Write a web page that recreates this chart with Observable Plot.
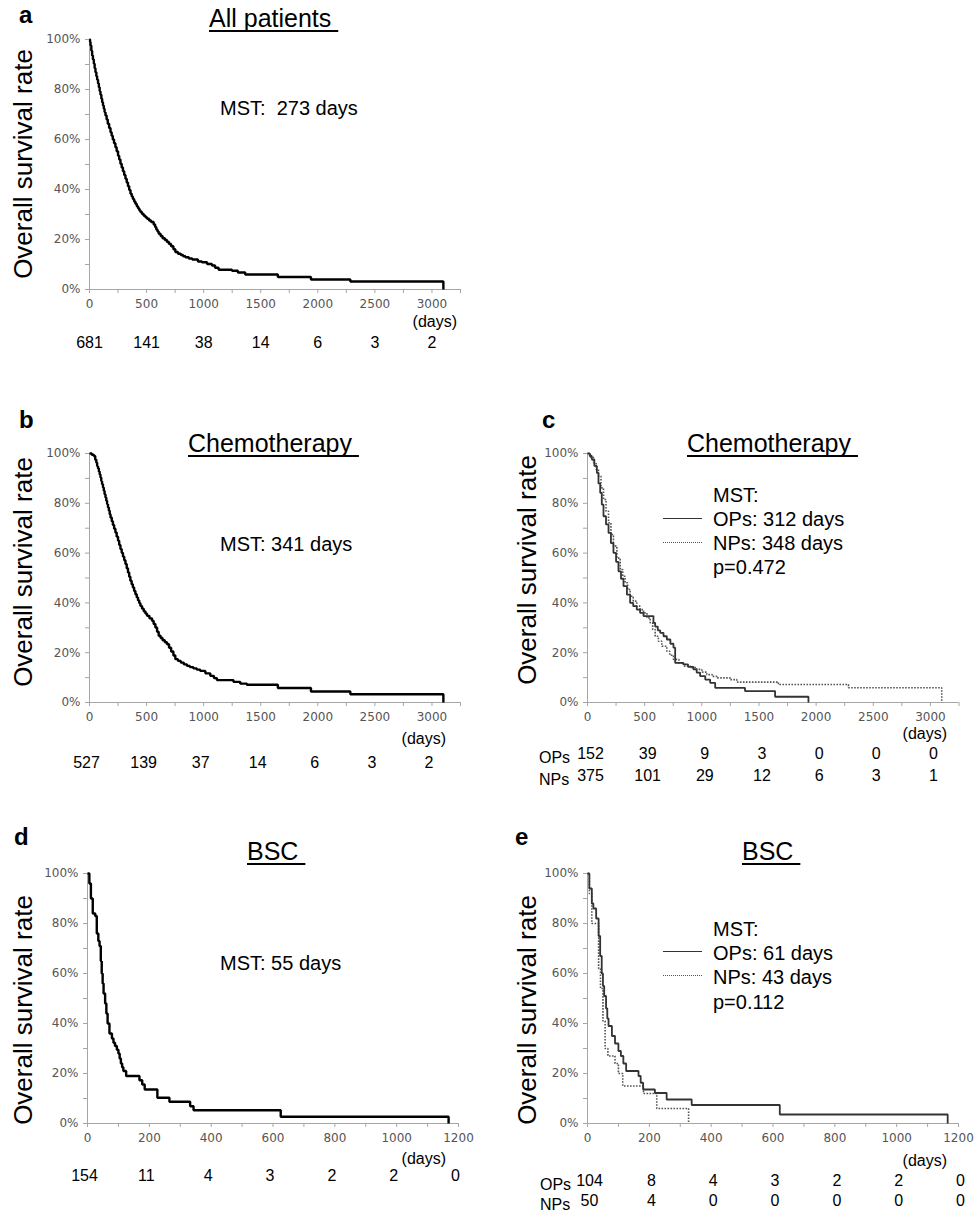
<!DOCTYPE html>
<html>
<head>
<meta charset="utf-8">
<script src="https://cdn.jsdelivr.net/npm/d3@7"></script>
<script src="https://cdn.jsdelivr.net/npm/@observablehq/plot@0.6"></script>
<style>
  html, body { margin: 0; padding: 0; background: #fff; }
  #fig { position: relative; width: 978px; height: 1215px; background: #fff; overflow: hidden; }
  .pl { position: absolute; }
  .t { position: absolute; white-space: pre; font-family: "Liberation Sans", Arial, sans-serif; color: #000; }
  .leg { position: absolute; width: 39px; height: 0; }
</style>
</head>
<body>
<div id="fig"></div>
<script>
// ---------------- data ----------------
// Kaplan-Meier steps: [day, survival %]
const allPatients = [[0,100],[5,99],[9,97.6],[16,95.5],[23,93.6],[30,92],[38,90.3],[45,88.5],[52,86.9],[60,85.3],[67,83.9],[75,82.4],[82,80.9],[89,79.4],[96,77.9],[104,76.3],[111,74.9],[118,73.6],[125,72.3],[132,71],[140,69.6],[150,68],[160,66.3],[172,64.6],[184,62.9],[194,61.5],[204,60],[215,58.5],[227,56.9],[238,55.3],[250,53.5],[260,52],[271,50.3],[282,48.8],[293,47.3],[304,45.8],[315,44.3],[326,42.8],[337,41.3],[348,39.8],[359,38.3],[370,37.2],[380,36.2],[391,35.2],[402,34.3],[414,33.3],[425,32.5],[436,31.7],[446,31],[460,30.2],[475,29.5],[490,28.9],[504,28.3],[522,27.6],[540,27],[562,26],[575,25],[585,24],[596,23.2],[606,22.3],[623,21.4],[640,20.5],[660,19.8],[679,19],[697,18.2],[715,17.3],[735,16.1],[752,15],[775,14.3],[800,13.8],[820,13.3],[840,12.9],[870,12.4],[900,12],[950,11.2],[985,10.9],[1030,10.2],[1073,9.6],[1100,8.7],[1131,7.9],[1248,7.5],[1300,6.8],[1364,6.0],[1650,5.0],[1940,4.0],[2285,3.2],[3100,0]];

const chemoAll = [[0,100],[20,99.5],[38,99],[50,97.5],[60,96.3],[67,95],[75,94],[82,92.8],[89,91.6],[96,90.4],[103,89],[110,87.7],[118,86.3],[125,85],[132,83.6],[140,82.3],[147,81],[154,79.7],[162,78.3],[170,77],[177,75.6],[184,74.3],[195,72.8],[205,71.3],[216,69.8],[227,68.3],[238,66.6],[250,65],[260,63.3],[271,61.6],[282,60.1],[293,58.6],[304,57.1],[315,55.6],[326,53.9],[337,52.2],[348,50.5],[358,48.9],[369,47.5],[380,46.2],[391,44.8],[402,43.5],[414,42.2],[425,41],[436,39.9],[446,38.8],[460,37.7],[475,36.6],[490,35.7],[504,34.8],[525,33.8],[548,32.8],[562,31.5],[577,30.1],[592,28.4],[606,26.8],[623,25.9],[640,25],[660,24.2],[679,23.4],[697,22],[715,20.5],[735,18.9],[752,17.4],[775,16.7],[800,16],[827,15.3],[854,14.7],[880,14.2],[910,13.7],[940,13.2],[970,12.7],[1015,11.7],[1058,10.7],[1090,9.8],[1116,9.0],[1261,8.3],[1320,7.6],[1378,7.1],[1650,5.8],[1940,4.4],[2285,3.3],[3100,0]];

const chemoOPs = [[0,100],[20,99],[38,97.6],[60,95],[82,92.2],[96,88],[111,84.2],[125,79.5],[140,74.8],[162,71.5],[184,68.1],[205,64],[227,60.1],[250,56.5],[271,52.7],[293,49.7],[315,46.7],[345,43.3],[373,40],[400,38.7],[431,37.3],[460,36],[490,34.7],[577,32],[592,30.5],[615,29],[636,28],[665,26.6],[694,25.3],[725,23.6],[752,22],[767,15.9],[840,15.3],[880,14.3],[927,13.3],[955,12],[985,10.6],[1030,9.2],[1073,7.9],[1117,5.9],[1378,4.6],[1641,2.3],[1933,0]];

const chemoNPs = [[0,100],[25,98.5],[52,96.3],[75,93.6],[96,90.9],[118,86.2],[140,81.5],[162,76.8],[184,72.2],[205,67.5],[227,62.8],[257,58],[286,53.4],[308,50.7],[329,48.1],[351,45.4],[373,42.7],[400,40.7],[431,38.7],[460,37.3],[490,36],[520,34],[548,32],[570,29.3],[592,26.6],[620,24.6],[650,22.6],[694,20.6],[720,19],[752,17.3],[800,15.8],[840,14.6],[900,14],[956,13.3],[1000,12.2],[1044,11.2],[1090,10.5],[1131,9.9],[1248,9.2],[1306,8.2],[1670,7.2],[2283,5.9],[3099,0]];

const bscAll = [[0,100],[6,96],[11,90],[17,84],[25,83],[30,76],[35,73],[39,71],[43,65],[46,60],[49,56],[52,52],[57,48],[61,44],[65,40],[71,36],[79,34],[84,32.3],[89,31],[95,29.5],[100,28],[104,26],[108,24],[112,22.5],[116,21],[125,19],[168,17.3],[177,15.6],[185,13.6],[226,10.3],[265,8.7],[332,6.9],[343,5.3],[625,2.7],[1168,0]];

const bscOPs = [[0,100],[6,94],[14,88],[19,86],[28,82],[36,75],[41,67],[46,60],[50,55],[54,51],[60,46],[64,42],[68,39],[79,35],[89,32],[100,29],[108,27],[116,24],[125,21],[165,19],[172,16.3],[180,13.6],[218,12.2],[256,9.6],[337,7.4],[622,3.6],[1165,0]];

const bscNPs = [[0,100],[6,92],[14,80],[36,62],[42,54],[50,41],[57,30],[66,27],[89,24],[100,20],[114,15],[181,12],[224,6],[327,0]];

// axis ticks
const xTicksLong = [0,250,500,750,1000,1250,1500,1750,2000,2250,2500,2750,3000,3250];
const xTicksShort = [0,100,200,300,400,500,600,700,800,900,1000,1100,1200];
const yTicks = [0,10,20,30,40,50,60,70,80,90,100];

// numbers at risk
const riskDaysLong = [0,500,1000,1500,2000,2500,3000];
const riskDaysShort = [0,200,400,600,800,1000,1200];
const riskA = [681,141,38,14,6,3,2];
const riskB = [527,139,37,14,6,3,2];
const riskC_OPs = [152,39,9,3,0,0,0];
const riskC_NPs = [375,101,29,12,6,3,1];
const riskD = [154,11,4,3,2,2,0];
const riskE_OPs = [104,8,4,3,2,2,0];
const riskE_NPs = [50,4,0,0,0,0,0];

// ---------------- drawing ----------------
const fig = document.getElementById("fig");
const AXIS = "#a6a6a6", TICKTXT = "#555";

function panel(cfg) {
  const {left, top, width, height, x0, xEnd, yTop, yBot, xMax, xTicks, labelStep, curves, risks} = cfg;
  const marks = [
    Plot.ruleY([0], {stroke: AXIS, strokeWidth: 1}),
    Plot.ruleX([0], {stroke: AXIS, strokeWidth: 1}),
    Plot.axisX({ticks: xTicks, tickSize: 4, tickPadding: 6, stroke: AXIS, fill: TICKTXT,
      tickFormat: d => d % labelStep === 0 ? String(d) : ""}),
    Plot.axisY({ticks: yTicks, tickSize: 4, tickPadding: 5, stroke: AXIS, fill: TICKTXT,
      tickFormat: d => d % 20 === 0 ? d + "%" : ""})
  ];
  for (const c of curves) {
    marks.push(Plot.line(c.data, {x: d => d[0], y: d => d[1], curve: "step-after",
      stroke: c.stroke, strokeWidth: c.width, strokeDasharray: c.dash || null,
      strokeLinejoin: "miter", strokeLinecap: "butt"}));
  }
  for (const r of risks) {
    marks.push(Plot.text(r.days, {x: d => d, text: (d, i) => String(r.values[i]),
      frameAnchor: "bottom", dy: r.dy, dx: r.dx || 0,
      fontFamily: "Liberation Sans", fontSize: 16, fill: "#000"}));
  }
  const svg = Plot.plot({
    width, height,
    marginLeft: x0 - left, marginRight: left + width - xEnd,
    marginTop: yTop - top, marginBottom: top + height - yBot,
    x: {domain: [0, xMax], label: null},
    y: {domain: [0, 100], label: null},
    style: {fontFamily: "DejaVu Sans, sans-serif", fontSize: "12px", background: "transparent", overflow: "visible"},
    marks
  });
  svg.classList.add("pl");
  svg.style.left = left + "px";
  svg.style.top = top + "px";
  fig.appendChild(svg);
}

function text(str, x, baseline, size, opts = {}) {
  const d = document.createElement("div");
  d.className = "t";
  d.textContent = str;
  d.style.fontSize = size + "px";
  d.style.lineHeight = size + "px";
  d.style.left = x + "px";
  d.style.top = (baseline - size * 0.8465) + "px";
  if (opts.bold) d.style.fontWeight = "bold";
  if (opts.anchor === "end") d.style.transform = "translateX(-100%)";
  if (opts.underline) {
    d.style.textDecoration = "underline";
    d.style.textDecorationThickness = "1.5px";
    d.style.textUnderlineOffset = "3px";
    d.style.textDecorationSkipInk = "none";
  }
  fig.appendChild(d);
}

function ylabel(cx, cy) {
  const d = document.createElement("div");
  d.className = "t";
  d.textContent = "Overall survival rate";
  d.style.fontSize = "26px";
  d.style.lineHeight = "26px";
  d.style.left = cx + "px";
  d.style.top = cy + "px";
  d.style.transform = "translate(-50%,-50%) rotate(-90deg)";
  fig.appendChild(d);
}

function legLine(x, y, style) {
  const d = document.createElement("div");
  d.className = "leg";
  d.style.left = x + "px";
  d.style.top = (y - 0.75) + "px";
  d.style.borderTop = style;
  fig.appendChild(d);
}

const thick = {stroke: "#000", width: 2.4};
const OPline = {stroke: "#333", width: 1.8};
const NPline = {stroke: "#555", width: 1.6, dash: "1.6,1.4"};

// a
panel({left: 0, top: 0, width: 488, height: 400, x0: 89, xEnd: 460, yTop: 39, yBot: 289,
  xMax: 3250, xTicks: xTicksLong, labelStep: 500,
  curves: [{data: allPatients, ...thick}],
  risks: [{days: riskDaysLong, values: riskA, dy: 58}]});
// b
panel({left: 0, top: 400, width: 488, height: 400, x0: 89, xEnd: 460, yTop: 453, yBot: 702,
  xMax: 3250, xTicks: xTicksLong, labelStep: 500,
  curves: [{data: chemoAll, ...thick}],
  risks: [{days: riskDaysLong, values: riskB, dy: 65, dx: -3}]});
// c
panel({left: 490, top: 400, width: 488, height: 400, x0: 587, xEnd: 958.5, yTop: 453, yBot: 702,
  xMax: 3250, xTicks: xTicksLong, labelStep: 500,
  curves: [{data: chemoNPs, ...NPline}, {data: chemoOPs, ...OPline}],
  risks: [{days: riskDaysLong, values: riskC_OPs, dy: 56, dx: 3}, {days: riskDaysLong, values: riskC_NPs, dy: 78, dx: 3}]});
// d
panel({left: 0, top: 810, width: 488, height: 405, x0: 87, xEnd: 458, yTop: 873, yBot: 1123,
  xMax: 1200, xTicks: xTicksShort, labelStep: 200,
  curves: [{data: bscAll, ...thick}],
  risks: [{days: riskDaysShort, values: riskD, dy: 57, dx: -3}]});
// e
panel({left: 490, top: 810, width: 488, height: 405, x0: 587, xEnd: 958, yTop: 873, yBot: 1123,
  xMax: 1200, xTicks: xTicksShort, labelStep: 200,
  curves: [{data: bscNPs, ...NPline}, {data: bscOPs, ...OPline}],
  risks: [{days: riskDaysShort, values: riskE_OPs, dy: 62, dx: 2}, {days: riskDaysShort, values: riskE_NPs, dy: 82, dx: 2}]});

// panel letters
text("a", 19, 23, 24, {bold: true});
text("b", 19, 428, 24, {bold: true});
text("c", 542, 428, 24, {bold: true});
text("d", 14, 845, 24, {bold: true});
text("e", 515, 845, 24, {bold: true});

// titles
text("All patients\u00a0", 209, 27, 25, {underline: true});
text("Chemotherapy\u00a0", 188, 452, 25, {underline: true});
text("Chemotherapy\u00a0", 687, 452, 25, {underline: true});
text("BSC\u00a0", 247, 860, 25, {underline: true});
text("BSC\u00a0", 742, 860, 25, {underline: true});

// y labels
ylabel(23, 164);
ylabel(23, 572);
ylabel(527, 570);
ylabel(23, 1010);
ylabel(527, 1010);

// MST annotations
text("MST:  273 days", 220, 115, 20);
text("MST: 341 days", 220, 551, 20);
text("MST: 55 days", 220, 970, 20);

// legend c
text("MST:", 713, 502, 20);
text("OPs: 312 days", 713, 526, 20);
text("NPs: 348 days", 713, 550, 20);
text("p=0.472", 713, 574, 20);
legLine(663, 519, "1.5px solid #333");
legLine(663, 543, "1.5px dotted #555");

// legend e
text("MST:", 713, 936, 20);
text("OPs: 61 days", 713, 960, 20);
text("NPs: 43 days", 713, 984, 20);
text("p=0.112", 713, 1009, 20);
legLine(663, 952, "1.5px solid #333");
legLine(663, 976, "1.5px dotted #555");

// (days)
text("(days)", 457, 328, 16, {anchor: "end"});
text("(days)", 446, 745, 16, {anchor: "end"});
text("(days)", 947, 740, 16, {anchor: "end"});
text("(days)", 446, 1165, 16, {anchor: "end"});
text("(days)", 947, 1167, 16, {anchor: "end"});

// risk row labels
text("OPs", 539, 764, 16);
text("NPs", 539, 786, 16);
text("OPs", 540, 1191, 16);
text("NPs", 540, 1211, 16);
</script>
</body>
</html>
